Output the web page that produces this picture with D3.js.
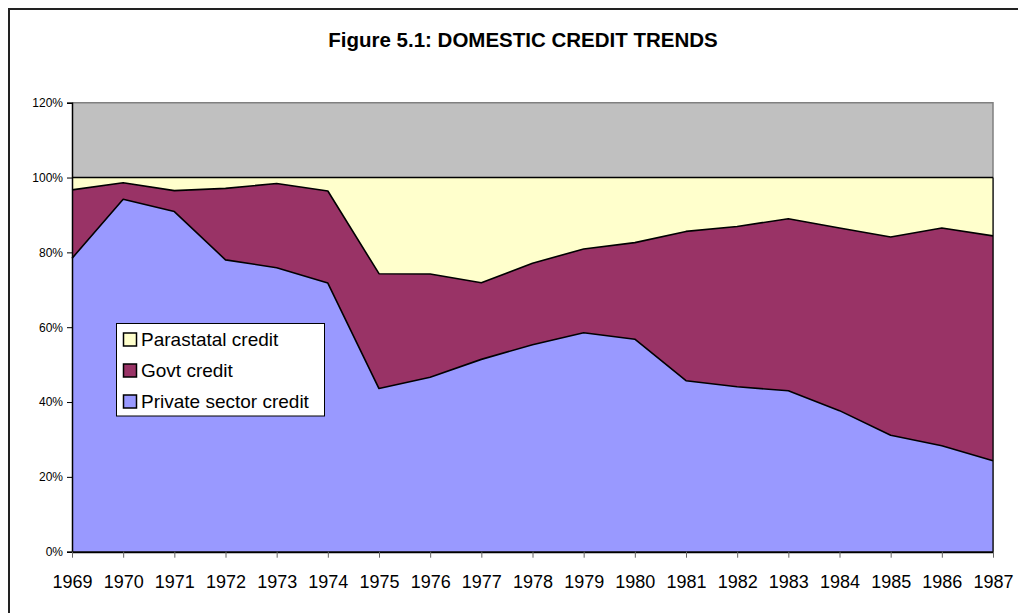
<!DOCTYPE html>
<html>
<head>
<meta charset="utf-8">
<script src="https://cdn.jsdelivr.net/npm/d3@7"></script>
<style>
  html, body { margin: 0; padding: 0; background: #fff; }
  svg { display: block; font-family: "Liberation Sans", Arial, sans-serif; }
</style>
</head>
<body>
<svg id="chart" width="1018" height="613"></svg>
<script>
const years = [1969,1970,1971,1972,1973,1974,1975,1976,1977,1978,1979,1980,1981,1982,1983,1984,1985,1986,1987];
const privateCredit = [78.4,94.2,90.9,78.0,75.9,71.8,43.6,46.6,51.4,55.3,58.5,56.8,45.7,44.1,43.0,37.7,31.1,28.3,24.3];
const govtCredit    = [18.3,4.4,5.6,19.1,22.5,24.6,30.7,27.6,20.5,21.8,22.4,25.8,39.9,42.8,46.0,48.8,53.0,58.2,60.1];
const parastatalCredit = [3.3,1.4,3.5,2.9,1.6,3.6,25.7,25.8,28.1,22.9,19.1,17.4,14.4,13.1,11.0,13.5,15.9,13.5,15.6];
const seriesNames = ["Private sector credit","Govt credit","Parastatal credit"];
const seriesColors = ["#9999FF","#993366","#FFFFCC"];
const yTicks = [0,20,40,60,80,100,120];
const chartTitle = "Figure 5.1: DOMESTIC CREDIT TRENDS";

(function(){
const svg = d3.select("#chart");
const pL = 72, pR = 993, pT = 102.7, pB = 551.7;

// outer chart border (cut off at right/bottom)
svg.append("rect").attr("x",9).attr("y",9).attr("width",1200).attr("height",800)
  .attr("fill","none").attr("stroke","#222").attr("stroke-width",2);

svg.append("text").attr("x",523).attr("y",47).attr("text-anchor","middle")
  .attr("font-weight","bold").attr("font-size",20.5).text(chartTitle);

const x = d3.scalePoint().domain(years).range([pL,pR]);
const y = d3.scaleLinear().domain([0,120]).range([pB,pT]);

// plot background
svg.append("rect").attr("x",pL).attr("y",pT).attr("width",pR-pL).attr("height",pB-pT)
  .attr("fill","#C0C0C0");
svg.append("path").attr("d",`M${pL},${pT}H${pR}V${pB}`).attr("fill","none")
  .attr("stroke","#808080").attr("stroke-width",1.5);

const table = years.map((yr,i)=>({year:yr, p:privateCredit[i], g:govtCredit[i], s:parastatalCredit[i]}));
const layers = d3.stack().keys(["p","g","s"])(table);

const area = d3.area().x(d=>x(d.data.year)).y0(d=>y(d[0])).y1(d=>y(d[1]));
svg.selectAll("path.layer").data(layers).join("path").attr("class","layer")
  .attr("d",area).attr("fill",(d,i)=>seriesColors[i]);
const line = d3.line().x(d=>x(d.data.year)).y(d=>y(d[1]));
svg.selectAll("path.edge").data(layers).join("path").attr("class","edge")
  .attr("d",line).attr("fill","none").attr("stroke","#000").attr("stroke-width",1.6)
  .attr("stroke-linejoin","round");

svg.append("line").attr("x1",pR).attr("x2",pR).attr("y1",y(100)).attr("y2",pB)
  .attr("stroke","#000").attr("stroke-width",1.2);

const yAxis = d3.axisLeft(y).tickValues(yTicks).tickFormat(d=>d+"%").tickSize(5).tickPadding(4);
const gy = svg.append("g").attr("transform",`translate(${pL},0)`).call(yAxis);
gy.select(".domain").attr("stroke","#000").attr("stroke-width",1.5);
gy.selectAll("text").attr("font-size",12).attr("font-family","Liberation Sans, Arial, sans-serif").attr("fill","#000");
gy.selectAll(".tick line").attr("stroke","#000");

const xAxis = d3.axisBottom(x).tickSize(6).tickPadding(17.5).tickSizeOuter(0);
const gx = svg.append("g").attr("transform",`translate(0,${pB})`).call(xAxis);
gx.select(".domain").attr("stroke","#000").attr("stroke-width",2);
gx.selectAll("text").attr("font-size",18).attr("font-family","Liberation Sans, Arial, sans-serif").attr("fill","#000");
gx.selectAll(".tick line").attr("stroke","#666");

const lg = svg.append("g");
lg.append("rect").attr("x",116.5).attr("y",323.5).attr("width",208).attr("height",92.5)
  .attr("fill","#fff").attr("stroke","#000").attr("stroke-width",1);
[2,1,0].forEach((si,k)=>{
  const cy = 339.5 + k*31;
  lg.append("rect").attr("x",123.5).attr("y",cy-6.5).attr("width",13).attr("height",13)
    .attr("fill",seriesColors[si]).attr("stroke","#000").attr("stroke-width",1.5);
  lg.append("text").attr("x",141).attr("y",cy+6.8).attr("font-size",19).text(seriesNames[si]);
});
})();
</script>
</body>
</html>
